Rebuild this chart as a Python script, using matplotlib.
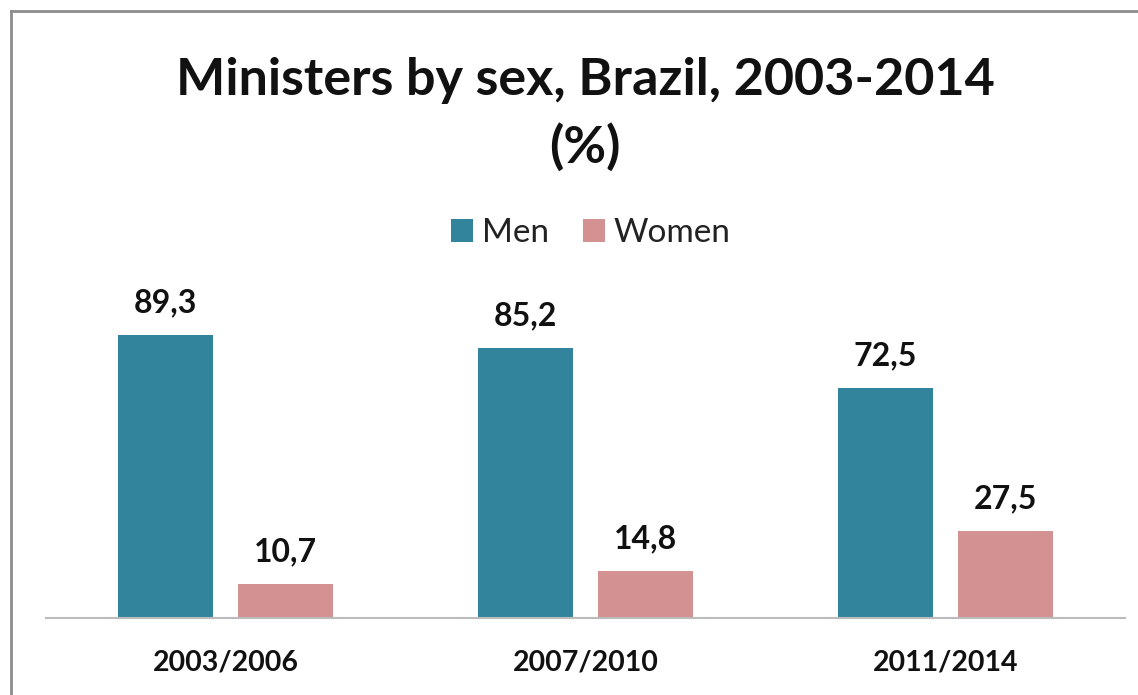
import matplotlib
matplotlib.use("Agg")
import matplotlib.pyplot as plt
from matplotlib.lines import Line2D
import numpy as np

categories = ["2003/2006", "2007/2010", "2011/2014"]
men = [89.3, 85.2, 72.5]
women = [10.7, 14.8, 27.5]
men_labels = ["89,3", "85,2", "72,5"]
women_labels = ["10,7", "14,8", "27,5"]
title_line1 = "Ministers by sex, Brazil, 2003-2014"
title_line2 = "(%)"

plt.rcParams['font.family'] = ['Lato', 'DejaVu Sans']

W, H = 1138, 695
fig = plt.figure(figsize=(W/100, H/100), dpi=100)
ax = fig.add_axes([46/W, (H-618)/H, 1079/W, 317/H])

x = np.arange(len(categories))
bw = 0.264
off = 0.167
c_men = "#31849B"
c_women = "#D39191"
b1 = ax.bar(x - off, men, bw, color=c_men, label="Men")
b2 = ax.bar(x + off, women, bw, color=c_women, label="Women")

for bars, labels in ((b1, men_labels), (b2, women_labels)):
    for rect, lab in zip(bars, labels):
        ax.annotate(lab, (rect.get_x()+rect.get_width()/2, rect.get_height()),
                    xytext=(0, 23), textcoords="offset pixels", ha="center", va="baseline",
                    fontsize=23, fontweight="bold", color="#111111", annotation_clip=False)

ax.set_xlim(-0.5, 2.5)
ax.set_ylim(0, 100)
ax.set_xticks(x)
ax.set_xticklabels(categories, fontsize=20.5, fontweight="bold", color="#111111", va="baseline")
ax.tick_params(axis="x", length=0, pad=52*0.72)
ax.set_yticks([])
for s in ["top", "right", "left"]:
    ax.spines[s].set_visible(False)
ax.spines["bottom"].set_color("#BBBBBB")
ax.spines["bottom"].set_linewidth(1.5)

fig.text(585/W, 1 - 95/H, title_line1, ha="center", va="baseline", fontsize=37.5,
         fontweight="bold", color="#111111")
fig.text(585/W, 1 - 163/H, title_line2, ha="center", va="baseline", fontsize=37.5,
         fontweight="bold", color="#111111")

leg = fig.legend(handles=[b1, b2], loc="center", bbox_to_anchor=(591/W, 1 - 233/H),
                 ncol=2, frameon=False, fontsize=24, handlelength=0.66, handleheight=0.66,
                 handletextpad=0.27, columnspacing=1.0, borderpad=0, borderaxespad=0)
for t in leg.get_texts():
    t.set_color("#222222")

# outer border (left and top)
fig.add_artist(Line2D([11/W, 11/W], [0, 1 - 11/H], transform=fig.transFigure,
                      color="#8C8C8C", linewidth=2))
fig.add_artist(Line2D([11/W, 1], [1 - 11/H, 1 - 11/H], transform=fig.transFigure,
                      color="#8C8C8C", linewidth=2))

fig.savefig("out.png", dpi=100)
